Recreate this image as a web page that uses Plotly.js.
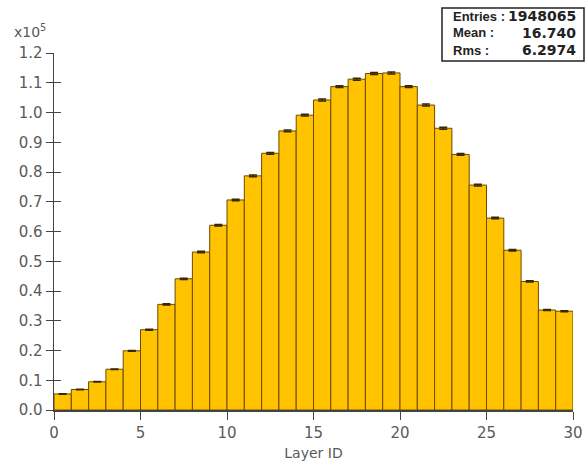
<!DOCTYPE html>
<html>
<head>
<meta charset="utf-8">
<script src="https://cdn.plot.ly/plotly-3.0.1.min.js"></script>
<style>html,body{margin:0;padding:0;background:#fff;}#chart{width:585px;height:461px;}</style>
</head>
<body>
<div id="chart"></div>
<script>
// Layer ID bins (left edges) and entries per bin
const layerIds = [0,1,2,3,4,5,6,7,8,9,10,11,12,13,14,15,16,17,18,19,20,21,22,23,24,25,26,27,28,29];
const counts = [5400,6900,9500,13700,19900,27000,35500,44100,53100,62100,70600,78700,86300,93800,99100,104200,108700,111200,113100,113300,108700,102500,94700,85900,75600,64500,53700,43200,33600,33200];
const yTickVals = [0,10000,20000,30000,40000,50000,60000,70000,80000,90000,100000,110000,120000];
const yTickText = ["0.0","0.1","0.2","0.3","0.4","0.5","0.6","0.7","0.8","0.9","1.0","1.1","1.2"];
const xTickVals = [0,5,10,15,20,25,30];
const statLabels = ["Entries :","Mean :","Rms :"];
const statValues = ["1948065","16.740","6.2974"];

const L = 54, R = 12, T = 53, B = 51, W = 585, H = 461;
const pw = W - L - R, ph = H - T - B;
const px = x => (x - L) / pw;
const py = y => (H - B - y) / ph;

const trace = {
  type: 'bar', x: layerIds, y: counts, offset: 0, width: 1,
  marker: {color: '#FFC300', line: {color: '#6e4a00', width: 1}},
  error_y: {type: 'sqrt', visible: true, color: '#3a2800', thickness: 1.5, width: 4},
  hoverinfo: 'skip', showlegend: false
};

const tickFont = {family: 'DejaVu Sans', size: 15, color: '#5a5a5a'};
const annotations = [
  {xref: 'paper', yref: 'paper', x: px(12), y: py(31), xanchor: 'left', yanchor: 'middle',
   text: 'x10<sup>5</sup>', showarrow: false, font: {family: 'DejaVu Sans', size: 14, color: '#5a5a5a'}}
];
const rowY = [16.5, 33, 50];
statLabels.forEach((s, i) => {
  annotations.push({xref: 'paper', yref: 'paper', x: px(451), y: py(rowY[i]), xanchor: 'left', yanchor: 'middle',
    text: '<b>' + s + '</b>', showarrow: false, font: {family: 'Liberation Sans', size: 13, color: '#222'}});
  annotations.push({xref: 'paper', yref: 'paper', x: px(578), y: py(rowY[i]), xanchor: 'right', yanchor: 'middle',
    text: '<b>' + statValues[i] + '</b>', showarrow: false, font: {family: 'DejaVu Sans', size: 14, color: '#222'}});
});

const layout = {
  width: W, height: H,
  margin: {l: L, r: R, t: T, b: B, pad: 0},
  paper_bgcolor: '#fff', plot_bgcolor: '#fff',
  bargap: 0,
  xaxis: {range: [0, 30], tickvals: xTickVals, ticks: 'outside', ticklen: 8, tickcolor: '#444', tickwidth: 1,
          showline: true, linecolor: '#444', linewidth: 1.5, showgrid: false, zeroline: false,
          tickfont: tickFont,
          title: {text: 'Layer ID', font: {family: 'DejaVu Sans', size: 14, color: '#5a5a5a'}, standoff: 8}},
  yaxis: {range: [0, 120000], tickvals: yTickVals, ticktext: yTickText, ticks: 'outside', ticklen: 7, tickcolor: '#444',
          tickwidth: 1, showline: true, linecolor: '#444', linewidth: 1.5, showgrid: false, zeroline: false,
          tickfont: tickFont},
  yaxis2: {overlaying: 'y', range: [0, 120000], tickvals: yTickVals, ticks: 'inside', ticklen: 7, tickcolor: '#444',
           showticklabels: false, showline: false, showgrid: false, zeroline: false, side: 'left'},
  shapes: [
    {type: 'rect', xref: 'paper', yref: 'paper', x0: px(442), x1: px(584), y0: py(61), y1: py(8),
     line: {color: '#222', width: 1.5}, fillcolor: 'rgba(0,0,0,0)'}
  ],
  annotations: annotations
};

const dummy = {type: 'scatter', x: [0], y: [0], yaxis: 'y2', mode: 'markers', marker: {opacity: 0}, hoverinfo: 'skip', showlegend: false};

Plotly.newPlot('chart', [trace, dummy], layout, {staticPlot: true, displayModeBar: false});
</script>
</body>
</html>
